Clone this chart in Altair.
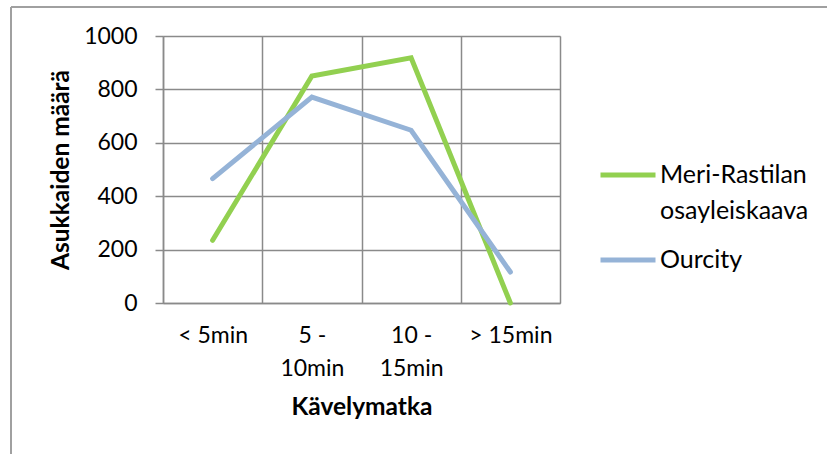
import altair as alt
import pandas as pd

categories = ["< 5min", "5 -\n10min", "10 -\n15min", "> 15min"]
series_names = ["Meri-Rastilan osayleiskaava", "Ourcity"]
meri_rastila = [235, 850, 918, 0]
ourcity = [466, 771, 647, 116]
y_ticks = [0, 200, 400, 600, 800, 1000]

rows = []
for s, vals in zip(series_names, [meri_rastila, ourcity]):
    for c, v in zip(categories, vals):
        rows.append({"series": s, "category": c, "value": v})
df = pd.DataFrame(rows)

FONT = "Lato"
GRID = "#8a8a8a"
PL, PT, PW, PH = 163, 36, 397, 267

lines = alt.Chart(df).mark_line(strokeWidth=5, strokeCap="round").encode(
    x=alt.X(
        "category:N",
        sort=categories,
        bandPosition=0.5,
        scale=alt.Scale(type="band", paddingInner=0, paddingOuter=0),
        axis=alt.Axis(
            title="Kävelymatka",
            labelExpr="split(datum.label, '\\n')",
            labelAngle=0,
            labelFont=FONT,
            labelFontSize=23,
            labelLineHeight=33,
            labelColor="black",
            labelPadding=21,
            ticks=False,
            tickSize=0,
            tickBand="extent",
            grid=True,
            gridColor=GRID,
            gridWidth=1.5,
            domainColor=GRID,
            domainWidth=1.5,
            titleFont=FONT,
            titleFontSize=24.5,
            titleFontWeight="bold",
            titleColor="black",
            titlePadding=15,
        ),
    ),
    y=alt.Y(
        "value:Q",
        scale=alt.Scale(domain=[0, 1000], nice=False),
        axis=alt.Axis(
            title="Asukkaiden määrä",
            values=y_ticks,
            format="d",
            labelFont=FONT,
            labelFontSize=23,
            labelColor="black",
            labelPadding=18,
            tickSize=8,
            tickColor=GRID,
            tickWidth=1.5,
            grid=True,
            gridColor=GRID,
            gridWidth=1.5,
            domainColor=GRID,
            domainWidth=1.5,
            titleFont=FONT,
            titleFontSize=24.5,
            titleFontWeight="bold",
            titleColor="black",
            titlePadding=10,
        ),
    ),
    color=alt.Color(
        "series:N",
        scale=alt.Scale(domain=series_names, range=["#92D050", "#95B3D7"]),
        legend=alt.Legend(
            title=None,
            orient="none",
            legendX=435,
            legendY=109,
            padding=0,
            symbolType="stroke",
            symbolSize=3025,
            symbolStrokeWidth=5,
            labelOffset=2,
            labelFont=FONT,
            labelFontSize=25,
            labelColor="black",
            labelLimit=300,
            rowPadding=6,
            labelExpr="datum.label == 'Meri-Rastilan osayleiskaava' ? ['\u2002Meri-Rastilan', 'osayleiskaava'] : datum.label",
        ),
    ),
)

frame_left = alt.Chart(df).mark_rule(color="#a0a0a0", strokeWidth=2).encode(
    x=alt.value(11 - PL), y=alt.value(7 - PT), y2=alt.value(454 - PT)
)
frame_top = alt.Chart(df).mark_rule(color="#a0a0a0", strokeWidth=2).encode(
    y=alt.value(7 - PT), x=alt.value(11 - PL), x2=alt.value(827 - PL)
)

chart = alt.layer(frame_left, frame_top, lines).properties(
    width=PW,
    height=PH,
    autosize=alt.AutoSizeParams(type="none"),
    padding={"left": PL, "top": PT, "right": 827 - PL - PW, "bottom": 454 - PT - PH},
    background="white",
).configure_view(stroke=GRID, strokeWidth=1.5).configure(
    style={"guide-label": {"lineHeight": 36}}
)

chart.save("out.html", embed_options={"renderer": "svg", "actions": False})
